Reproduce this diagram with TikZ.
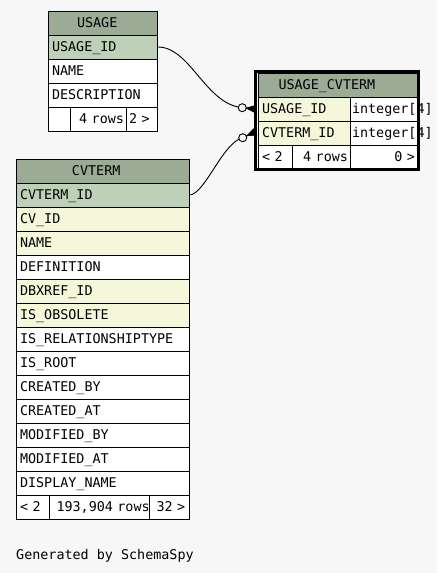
\documentclass[tikz,border=0pt]{standalone}
\usepackage{fontspec}
\newfontfamily\dmono[WordSpace={1,0,0}]{DejaVu Sans Mono}
\usetikzlibrary{calc}
\definecolor{bg}{HTML}{F7F7F7}
\definecolor{hdr}{HTML}{9BAB96}
\definecolor{pk}{HTML}{BED1B8}
\definecolor{idx}{HTML}{F4F7DA}
\newcommand\erdfont{\dmono\fontsize{13.4}{15}\selectfont\hyphenpenalty=10000\exhyphenpenalty=10000}
\tikzset{
  base/.style={draw=black, line width=1pt, anchor=north west, minimum height=24pt,
    inner ysep=0pt, outer sep=0pt, font=\erdfont, text height=10pt, text depth=2pt, fill=white},
  L/.style={base, inner xsep=4pt, text width=#1, align=left},
  R/.style={base, inner xsep=2pt, text width=#1, align=right},
  H/.style={base, fill=hdr, inner xsep=0pt, text width=#1, align=left},
  conn/.style={draw=black, line width=0.9pt},
  crow/.style={fill=black, draw=black, line width=0.6pt},
  odot/.style={draw=black, fill=bg, line width=0.9pt},
  frame/.style={draw=black, line width=3pt}
}
\begin{document}
\begin{tikzpicture}[x=1pt,y=-1pt]
\fill[bg] (0,0) rectangle (437,573);
\useasboundingbox (0,0) rectangle (437,573);

% USAGE
\node[H=109] (uH) at (48,11) {\hspace*{29pt}USAGE};
\node[L=101, fill=pk] (uUid) at (48,35) {USAGE\_ID};
\node[L=101] (uName) at (48,59) {NAME};
\node[L=101] (uDesc) at (48,83) {DESCRIPTION};
\node[L=14] (uF1) at (48,107) {};
\node[R=52] (uF2) at (70,107) {\mbox{4 rows}};
\node[L=23] (uF3) at (126,107) {\hspace*{-1pt}\mbox{2 >}};

% CVTERM
\node[H=173] (cH) at (16,159) {\hspace*{56pt}CVTERM};
\node[L=165, fill=pk] (cId) at (16,183) {CVTERM\_ID};
\node[L=165, fill=idx] (cCv) at (16,207) {CV\_ID};
\node[L=165, fill=idx] (cName) at (16,231) {NAME};
\node[L=165] (cDef) at (16,255) {DEFINITION};
\node[L=165, fill=idx] (cDbx) at (16,279) {DBXREF\_ID};
\node[L=165, fill=idx] (cObs) at (16,303) {IS\_OBSOLETE};
\node[L=165] (cRel) at (16,327) {IS\_RELATIONSHIPTYPE};
\node[L=165] (cRoot) at (16,351) {IS\_ROOT};
\node[L=165] (cCby) at (16,375) {CREATED\_BY};
\node[L=165] (cCat) at (16,399) {CREATED\_AT};
\node[L=165] (cMby) at (16,423) {MODIFIED\_BY};
\node[L=165] (cMat) at (16,447) {MODIFIED\_AT};
\node[L=165] (cDisp) at (16,471) {DISPLAY\_NAME};
\node[L=25] (cF1) at (16,495) {\mbox{< 2}};
\node[L=92] (cF2) at (49,495) {\hspace*{3.5pt}\mbox{193,904 rows}};
\node[L=32] (cF3) at (149,495) {\hspace*{3.5pt}\mbox{32 >}};

% USAGE_CVTERM
\node[H=159] (ucH) at (258,73) {\hspace*{20.5pt}USAGE\_CVTERM};
\node[L=84, fill=idx] (ucUid) at (258,97) {USAGE\_ID};
\node[L=59] (ucUidT) at (350,97) {\hspace*{-2pt}\mbox{integer[4]}};
\node[L=84, fill=idx] (ucCid) at (258,121) {CVTERM\_ID};
\node[L=59] (ucCidT) at (350,121) {\hspace*{-2pt}\mbox{integer[4]}};
\node[L=26] (ucF1) at (258,145) {\mbox{< 2}};
\node[R=54] (ucF2) at (292,145) {\mbox{4 rows}};
\node[R=63] (ucF3) at (350,145) {\mbox{0 >}};
\draw[frame] (255.5,71.5) rectangle (418.5,169.5);

% connector USAGE.USAGE_ID -> USAGE_CVTERM.USAGE_ID
\coordinate (E1) at ($(ucUid.west)+(-3,0)$);
\coordinate (C1) at (242.3,107.7);
\draw[conn] (uUid.east) .. controls (190,46) and (205,104) .. (C1) -- (E1);
\fill[crow] ($(E1)!9pt!(C1)$) -- ($(E1)!3.5pt!90:(C1)$) -- ($(E1)!3.5pt!-90:(C1)$) -- cycle;
\draw[odot] (C1) circle (4);

% connector CVTERM.CVTERM_ID -> USAGE_CVTERM.CVTERM_ID
\coordinate (E2) at ($(ucCid.west)+(-3,-1)$);
\coordinate (C2) at (242.7,137.7);
\draw[conn] (cId.east) .. controls (205,195) and (222,143) .. (C2) -- (E2);
\fill[crow] ($(E2)!9pt!(C2)$) -- ($(E2)!3.5pt!90:(C2)$) -- ($(E2)!3.5pt!-90:(C2)$) -- cycle;
\draw[odot] (C2) circle (4);

\node[font=\erdfont, anchor=base west, inner sep=0pt] (gen) at (16,559) {Generated by SchemaSpy};
\end{tikzpicture}
\end{document}
